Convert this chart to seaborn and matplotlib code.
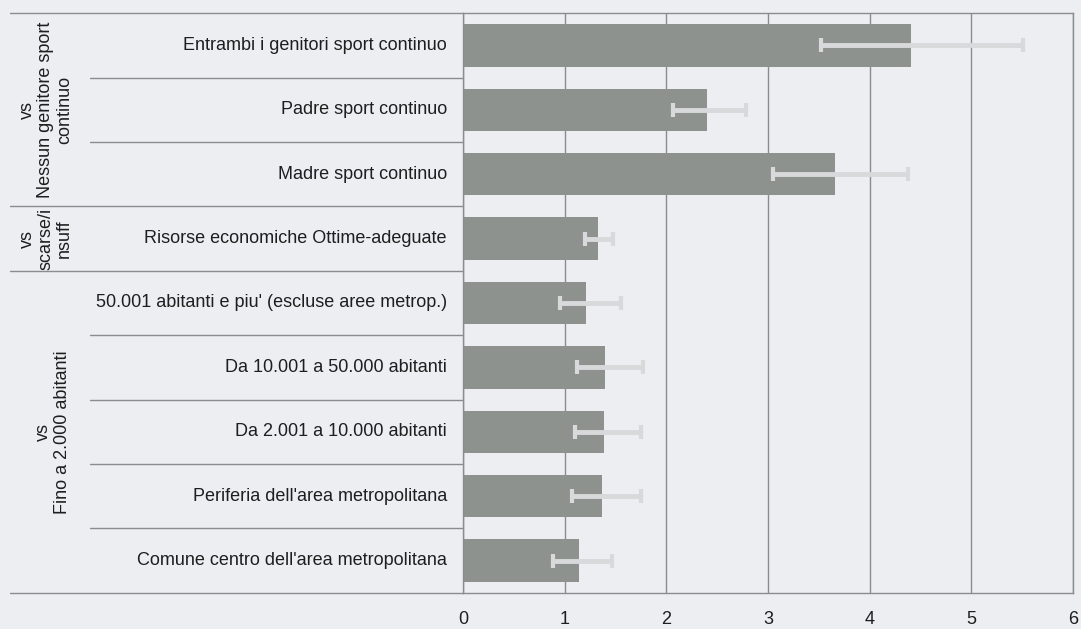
import matplotlib
matplotlib.use("Agg")
import matplotlib.pyplot as plt
import matplotlib.transforms as mtransforms
import numpy as np
import pandas as pd
import seaborn as sns

# Odds ratios with 95% confidence intervals
categories = [
    "Entrambi i genitori sport continuo",
    "Padre sport continuo",
    "Madre sport continuo",
    "Risorse economiche Ottime-adeguate",
    "50.001 abitanti e piu' (escluse aree metrop.)",
    "Da 10.001 a 50.000 abitanti",
    "Da 2.001 a 10.000 abitanti",
    "Periferia dell'area metropolitana",
    "Comune centro dell'area metropolitana",
]
odds_ratio = [4.41, 2.40, 3.66, 1.33, 1.21, 1.40, 1.39, 1.37, 1.14]
ci_low = [3.52, 2.07, 3.05, 1.20, 0.95, 1.12, 1.10, 1.07, 0.89]
ci_high = [5.51, 2.78, 4.38, 1.48, 1.55, 1.77, 1.75, 1.75, 1.47]

# Reference groups: (label, first row, last row)
group_labels = ["vs\nNessun genitore sport\ncontinuo", "vs\nscarse/i\nnsuff", "vs\nFino a 2.000 abitanti"]
group_rows = [(0, 2), (3, 3), (4, 8)]

x_ticks = [0, 1, 2, 3, 4, 5, 6]

BG = "#eceef1"
BAR = "#8e928f"
ERR = "#d8d9db"
LINE = "#8c8c8c"
TEXT = "#1e1e1e"

sns.set_theme(style="white")
plt.rcParams["font.family"] = ["Liberation Sans", "DejaVu Sans"]

W, H = 1081, 629
fig = plt.figure(figsize=(W / 100, H / 100), dpi=100, facecolor=BG)
ax = fig.add_axes([463 / W, 1 - 592.7 / H, (1073 - 463) / W, (592.7 - 13.3) / H])
ax.set_facecolor(BG)

df = pd.DataFrame({"cat": categories, "or": odds_ratio})
sns.barplot(data=df, x="or", y="cat", orient="h", color=BAR, saturation=1,
            width=0.66, ax=ax, linewidth=0)

ypos = np.arange(len(categories))
xerr = np.array([np.array(odds_ratio) - np.array(ci_low),
                 np.array(ci_high) - np.array(odds_ratio)])
ax.errorbar(odds_ratio, ypos, xerr=xerr, fmt="none", ecolor=ERR,
            elinewidth=3.5, capsize=4.7, capthick=3, zorder=5)

ax.set_xlim(0, 6)
ax.set_ylim(len(categories) - 0.5, -0.5)
ax.set_xticks(x_ticks)
ax.set_xticklabels([str(t) for t in x_ticks], fontsize=13, color=TEXT)
ax.set_yticks([])
ax.set_xlabel("")
ax.set_ylabel("")
ax.xaxis.grid(True, color=LINE, linewidth=1)
ax.set_axisbelow(True)
ax.tick_params(axis="x", direction="out", length=6, width=1, color=LINE, pad=7)
for side in ["left", "bottom", "top", "right"]:
    ax.spines[side].set_visible(True)
    ax.spines[side].set_color(LINE)
    ax.spines[side].set_linewidth(1)

# Row labels and table-style separators on the left
trans = mtransforms.blended_transform_factory(fig.transFigure, ax.transData)
x_axis = 463 / W
for i, label in enumerate(categories):
    ax.text(447 / W, i, label, transform=trans, ha="right", va="center",
            fontsize=13, color=TEXT)

group_bounds = {-0.5, len(categories) - 0.5}
for first, last in group_rows:
    group_bounds.add(first - 0.5)
    group_bounds.add(last + 0.5)

for b in np.arange(-0.5, len(categories), 1.0):
    x0 = 10 / W if b in group_bounds else 90 / W
    ax.plot([x0, x_axis], [b, b], transform=trans, color=LINE,
            linewidth=1, clip_on=False)

group_x = [46, 46, 53]
for (label, (first, last)), gx in zip(zip(group_labels, group_rows), group_x):
    ax.text(gx / W, (first + last) / 2, label, transform=trans, rotation=90,
            ha="center", va="center", multialignment="center",
            fontsize=13, color=TEXT, linespacing=1.1)

fig.savefig("out.png", dpi=100, facecolor=BG)
